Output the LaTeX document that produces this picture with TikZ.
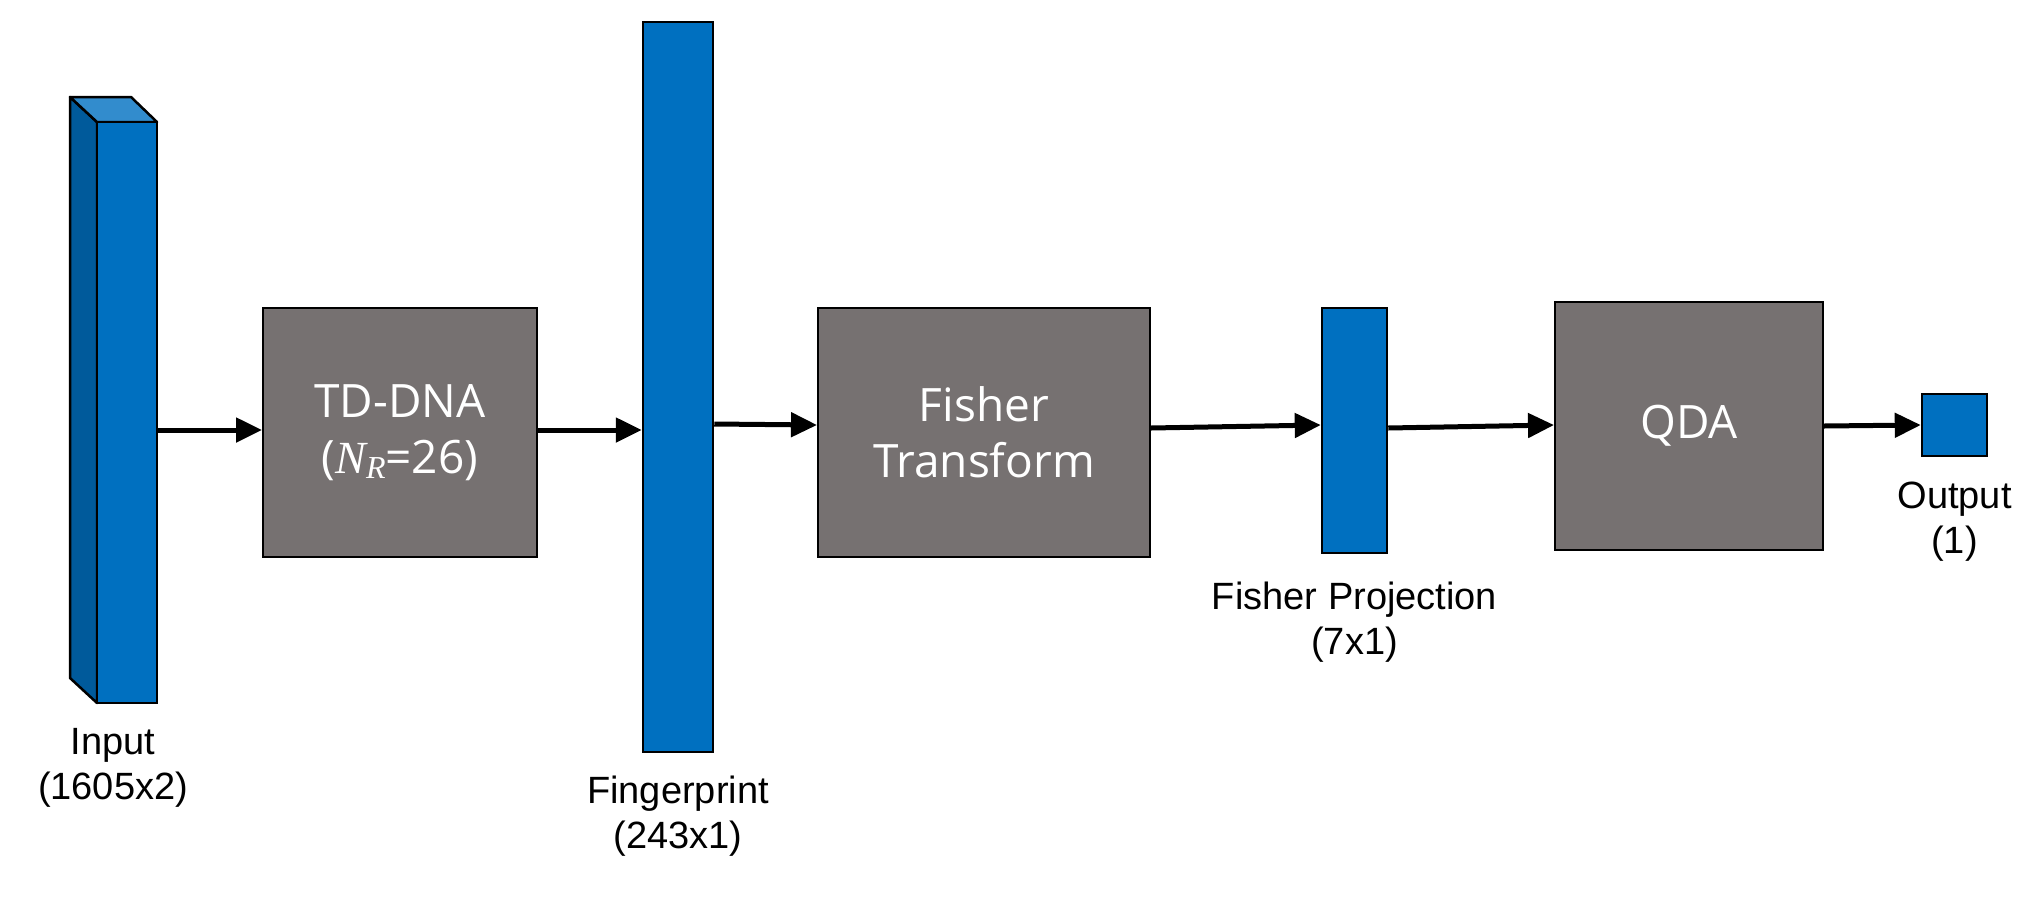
\documentclass[tikz,border=0pt]{standalone}
\usepackage{fontspec}
\setmainfont{Liberation Sans}
\newfontfamily\boxfont{Open Sans}
\newfontfamily\mathlike{Liberation Serif}
\usetikzlibrary{arrows.meta}
\definecolor{barblue}{RGB}{0,112,192}
\definecolor{sideblue}{RGB}{0,90,155}
\definecolor{topblue}{RGB}{50,140,205}
\definecolor{procgray}{RGB}{118,113,113}
\begin{document}
\begin{tikzpicture}[x=1pt,y=-1pt,
  bar/.style={draw=black,line width=2.5pt,fill=barblue},
  proc/.style={draw=black,line width=2pt,fill=procgray,text=white,font=\boxfont\fontsize{46}{56}\selectfont,align=center,inner sep=0pt},
  lab/.style={font=\fontsize{38}{45}\selectfont,align=center},
  arr/.style={line width=5pt,-{Triangle[length=26pt,width=24pt]}}]
\useasboundingbox (0,0) rectangle (2041,900);
% input 3D bar
\filldraw[fill=sideblue,draw=black,line width=2.5pt,line join=round] (70,97) -- (97,122) -- (97,703) -- (70,678) -- cycle;
\filldraw[fill=topblue,draw=black,line width=2.5pt,line join=round] (70,97) -- (131,97) -- (157,122) -- (97,122) -- cycle;
\node[bar,minimum width=60pt,minimum height=581pt,inner sep=0pt] (in) at (127,412.5) {};
\node[lab,anchor=north] (inl) at (113,725) {Input\\(1605x2)};
\node[proc,minimum width=274pt,minimum height=249pt] (td) at (400,432.5) {TD-DNA\\({\mathlike\itshape N\raisebox{-0.25ex}{\fontsize{32}{34}\selectfont R}}=26)};
\node[bar,minimum width=70pt,minimum height=730pt,inner sep=0pt] (fp) at (678,387) {};
\node[lab,anchor=north] (fpl) at (678,772) {Fingerprint\\(243x1)};
\node[proc,minimum width=332pt,minimum height=249pt] (ft) at (984,432.5) {Fisher\\Transform};
\node[bar,minimum width=65pt,minimum height=245pt,inner sep=0pt] (pj) at (1354.5,430.5) {};
\node[lab,anchor=north] (pjl) at (1354.5,578) {Fisher Projection\\(7x1)};
\node[proc,minimum width=268pt,minimum height=248pt] (qd) at (1689,426) {QDA};
\node[bar,minimum width=65pt,minimum height=62pt,inner sep=0pt] (out) at (1954.5,425) {};
\node[lab,anchor=north] (outl) at (1954.5,478) {Output\\(1)};
\draw[arr] (in.east |- 0,430) -- (td.west |- 0,430);
\draw[arr] (td.east |- 0,430) -- (fp.west |- 0,430);
\draw[arr] (fp.east |- 0,424) -- (ft.west |- 0,425);
\draw[arr] (ft.east |- 0,428) -- (pj.west |- 0,425);
\draw[arr] (pj.east |- 0,428) -- (qd.west |- 0,425);
\draw[arr] (qd.east |- 0,426) -- (out.west |- 0,425);
\end{tikzpicture}
\end{document}
